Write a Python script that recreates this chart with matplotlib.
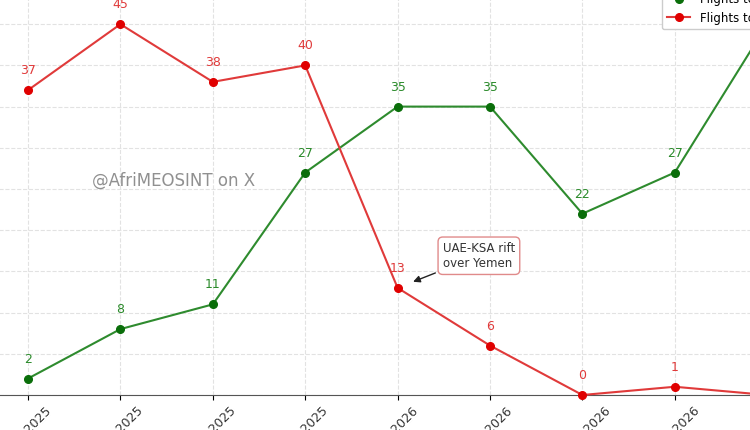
import matplotlib
matplotlib.use("Agg")
import matplotlib.pyplot as plt

months = ["Sep 2025", "Oct 2025", "Nov 2025", "Dec 2025", "Jan 2026",
          "Feb 2026", "March 2026", "April 2026", "May 2026"]
green_vals = [2, 8, 11, 27, 35, 35, 22, 27, 45]
red_vals = [37, 45, 38, 40, 13, 6, 0, 1, 0]
green_label = "Flights to Saudi Arabia"
red_label = "Flights to UAE"

fig = plt.figure(figsize=(7.5, 4.3), dpi=100)
# axes larger than the figure: the reference is a crop of a bigger chart
ax = fig.add_axes([-27.4 / 750, 35 / 430, 850 / 750, 412 / 430])

x = list(range(len(months)))
ax.plot(x, green_vals, color="#2e8b2e", lw=1.5, marker="o", ms=5.5,
        mfc="#0a6e0a", mec="#0a6e0a", label=green_label, clip_on=False, zorder=3)
ax.plot(x, red_vals, color="#e03a3a", lw=1.5, marker="o", ms=5.5,
        mfc="#e00000", mec="#e00000", label=red_label, clip_on=False, zorder=3)

for i, v in enumerate(green_vals):
    ax.annotate(str(v), (i, v), xytext=(0, 14), textcoords="offset points",
                ha="center", va="center", fontsize=9, color="#2a8a2a")
for i, v in enumerate(red_vals):
    ax.annotate(str(v), (i, v), xytext=(0, 14), textcoords="offset points",
                ha="center", va="center", fontsize=9, color="#e03a3a")

ax.annotate("UAE-KSA rift\nover Yemen", xy=(4, 13), xytext=(4.88, 16.9),
            ha="center", va="center", multialignment="left",
            fontsize=8.5, color="#333333",
            bbox=dict(boxstyle="round,pad=0.4", fc="white", ec="#e08a8a", lw=1),
            arrowprops=dict(arrowstyle="-|>", color="#222222", lw=1,
                            shrinkA=2, shrinkB=12, mutation_scale=10))

ax.text(0.69, 26, "@AfriMEOSINT on X", fontsize=12, color="#909090",
        ha="left", va="center")

ax.set_xlim(-0.6, 8.6)
ax.set_ylim(0, 50)
ax.set_xticks(x)
ax.set_xticklabels(months, rotation=45, ha="center", fontsize=9, color="#333333")
ax.set_yticks(range(0, 51, 5))
ax.grid(True, color="#e2e2e2", ls="--", lw=0.8)
ax.set_axisbelow(True)
for s in ["top", "right", "left"]:
    ax.spines[s].set_visible(False)
ax.spines["bottom"].set_color("#555555")

ax.legend(loc="upper left", bbox_to_anchor=(662 / 750, 1 + 12 / 430),
          bbox_transform=fig.transFigure, fontsize=8.5, borderaxespad=0,
          framealpha=1, edgecolor="#cccccc")

fig.savefig("out.png", dpi=100)
